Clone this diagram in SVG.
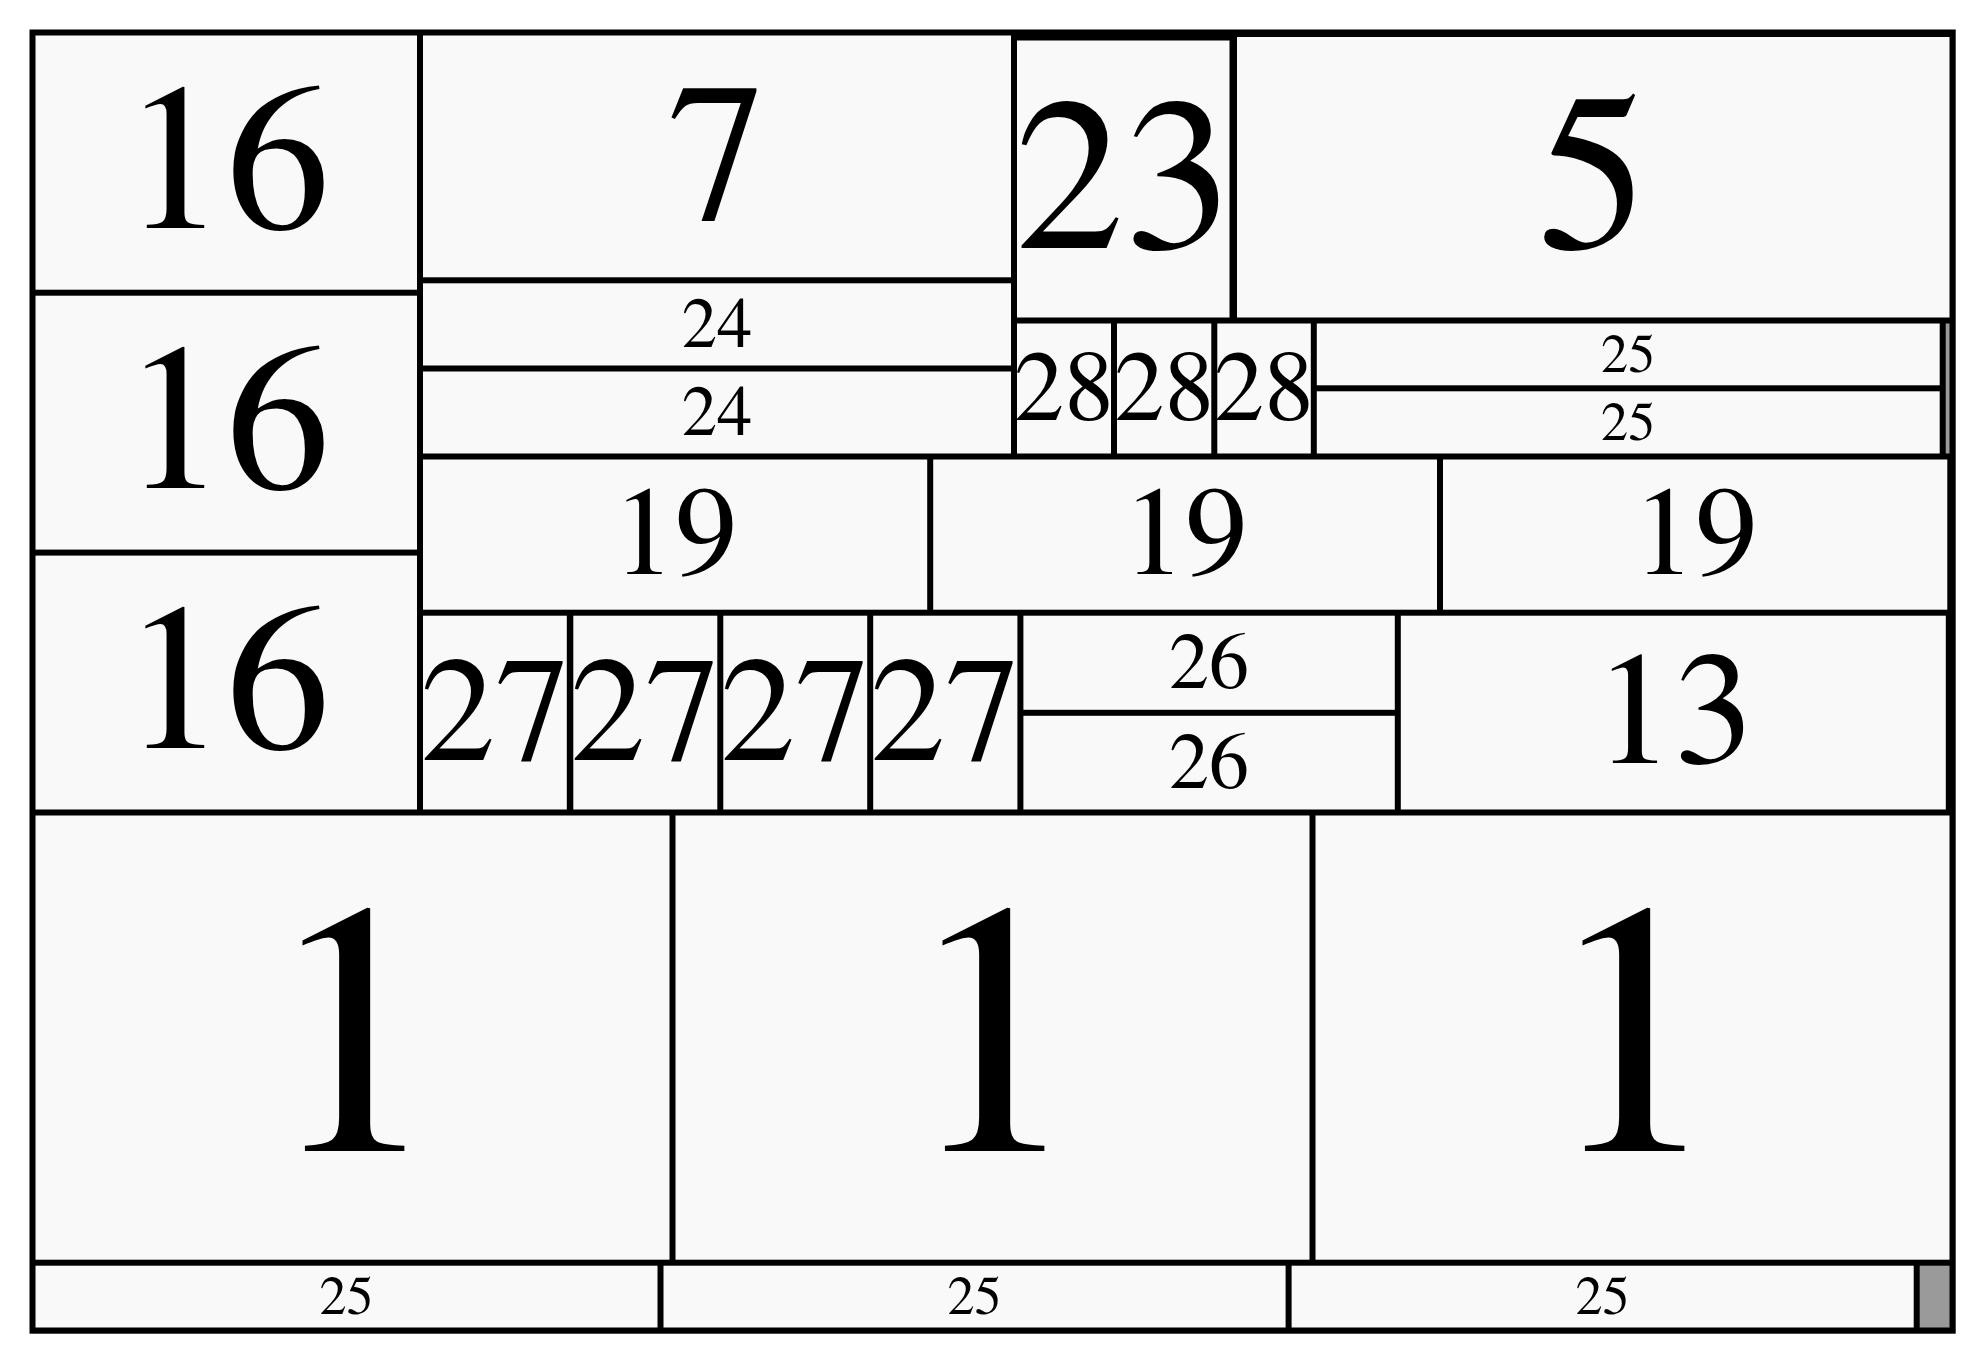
<svg xmlns="http://www.w3.org/2000/svg" width="1984" height="1362" viewBox="0 0 1984 1362">
<style>
.c{fill:#f9f9f9;stroke:#000;stroke-width:3}
.g{fill:#9a9a9a;stroke:#000;stroke-width:3}
.t{fill:#000;text-anchor:middle;font-family:FreeSerif,'TeX Gyre Termes','Nimbus Roman','Liberation Serif',serif}
</style>
<rect x="0" y="0" width="1984" height="1362" fill="#ffffff"/>
<rect id="frame" x="29.5" y="29.5" width="1926.2" height="1304.2" fill="#000"/>
<g id="nodes">
<g id="n16a"><rect class="c" x="34" y="34" width="384.5" height="257.2"/><text class="t" x="226.2" y="228.1" font-size="208">16</text></g>
<g id="n16b"><rect class="c" x="34" y="294.2" width="384.5" height="256.9"/><text class="t" x="226.2" y="488" font-size="208">16</text></g>
<g id="n16c"><rect class="c" x="34" y="554.1" width="384.5" height="256.9"/><text class="t" x="226.2" y="748" font-size="208">16</text></g>
<g id="n7"><rect class="c" x="421.5" y="34" width="591" height="244.8"/><text class="t" x="717" y="218.8" font-size="198">7</text></g>
<g id="n24a"><rect class="c" x="421.5" y="281.8" width="591" height="85.2"/><text class="t" x="717" y="346.6" font-size="70.6">24</text></g>
<g id="n24b"><rect class="c" x="421.5" y="370" width="591" height="85"/><text class="t" x="717" y="434.7" font-size="70.6">24</text></g>
<g id="n23"><rect class="c" x="1015.5" y="39" width="215.5" height="280"/><text class="t" x="1124" y="247.7" font-size="218">23</text></g>
<g id="n5"><rect class="c" x="1235.5" y="35.5" width="715.5" height="283.5"/><text class="t" x="1593" y="248" font-size="224">5</text></g>
<g id="n28a"><rect class="c" x="1015.5" y="322" width="97" height="133"/><text class="t" x="1064" y="420" font-size="100">28</text></g>
<g id="n28b"><rect class="c" x="1115.5" y="322" width="97.3" height="133"/><text class="t" x="1164.2" y="420" font-size="100">28</text></g>
<g id="n28c"><rect class="c" x="1215.8" y="322" width="96.5" height="133"/><text class="t" x="1264" y="420" font-size="100">28</text></g>
<g id="n25a"><rect class="c" x="1315.3" y="322" width="625.9" height="64.8"/><text class="t" x="1628.2" y="371.5" font-size="54.2">25</text></g>
<g id="n25b"><rect class="c" x="1315.3" y="389.8" width="625.9" height="65.2"/><text class="t" x="1628.2" y="439.5" font-size="54.2">25</text></g>
<g id="rest1"><rect class="g" x="1944.2" y="322" width="6.8" height="133"/></g>
<g id="n19a"><rect class="c" x="421.5" y="458" width="507.2" height="153.2"/><text class="t" x="675.1" y="574" font-size="125">19</text></g>
<g id="n19b"><rect class="c" x="931.7" y="458" width="506.8" height="153.2"/><text class="t" x="1185.2" y="574" font-size="125">19</text></g>
<g id="n19c"><rect class="c" x="1441.5" y="458" width="507.3" height="153.2"/><text class="t" x="1695.2" y="574" font-size="125">19</text></g>
<g id="n27a"><rect class="c" x="421.5" y="614.2" width="146.8" height="196.8"/><text class="t" x="495.2" y="760" font-size="150">27</text></g>
<g id="n27b"><rect class="c" x="571.8" y="614.2" width="147" height="196.8"/><text class="t" x="645.3" y="760" font-size="150">27</text></g>
<g id="n27c"><rect class="c" x="721.8" y="614.2" width="146.9" height="196.8"/><text class="t" x="795.3" y="760" font-size="150">27</text></g>
<g id="n27d"><rect class="c" x="871.7" y="614.2" width="147.2" height="196.8"/><text class="t" x="945.3" y="760" font-size="150">27</text></g>
<g id="n26a"><rect class="c" x="1021.9" y="614.2" width="374.4" height="97.1"/><text class="t" x="1209.1" y="688" font-size="80">26</text></g>
<g id="n26b"><rect class="c" x="1021.9" y="714.3" width="374.4" height="96.7"/><text class="t" x="1209.1" y="787.9" font-size="80">26</text></g>
<g id="n13"><rect class="c" x="1399.3" y="614.2" width="548" height="196.8"/><text class="t" x="1674" y="763" font-size="160">13</text></g>
<g id="n1a"><rect class="c" x="34" y="814" width="637" height="447.2"/><text class="t" x="352.5" y="1151" font-size="360">1</text></g>
<g id="n1b"><rect class="c" x="674" y="814" width="637" height="447.2"/><text class="t" x="992.5" y="1151" font-size="360">1</text></g>
<g id="n1c"><rect class="c" x="1314" y="814" width="637" height="447.2"/><text class="t" x="1632.5" y="1151" font-size="360">1</text></g>
<g id="n25c"><rect class="c" x="34" y="1264.2" width="625" height="64.8"/><text class="t" x="346.5" y="1313.7" font-size="54.2">25</text></g>
<g id="n25d"><rect class="c" x="662" y="1264.2" width="625.1" height="64.8"/><text class="t" x="974.5" y="1313.7" font-size="54.2">25</text></g>
<g id="n25e"><rect class="c" x="1290.1" y="1264.2" width="625.1" height="64.8"/><text class="t" x="1602.6" y="1313.7" font-size="54.2">25</text></g>
<g id="rest2"><rect class="g" x="1918.2" y="1264.2" width="32.8" height="64.8"/></g>
</g>
<g id="connectors"></g>
</svg>
